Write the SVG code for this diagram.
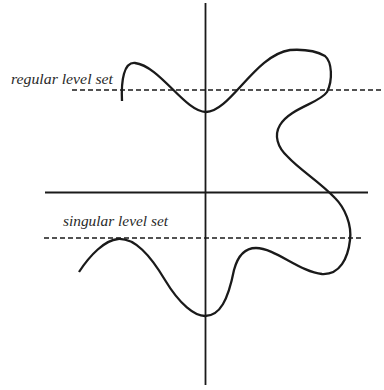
<svg xmlns="http://www.w3.org/2000/svg" width="384" height="390" viewBox="0 0 384 390">
<style>
.axis{stroke:#1a1a1a;stroke-width:1.8;fill:none}
.level{stroke:#1a1a1a;stroke-width:1.3;stroke-dasharray:5 3;fill:none}
.curve{stroke:#1a1a1a;stroke-width:2.3;fill:none;stroke-linecap:butt}
.lbl{font-family:"Liberation Serif","Times New Roman",serif;font-style:italic;font-size:14.5px;fill:#2a2a2a}
</style>
<rect width="384" height="390" fill="#fff"/>
<g id="axes">
<line class="axis" x1="205.5" y1="3" x2="205.5" y2="385"/>
<line class="axis" x1="45" y1="192.5" x2="368" y2="192.5"/>
</g>
<g id="level-sets">
<line class="level" x1="72" y1="90" x2="384" y2="90"/>
<line class="level" x1="44" y1="238" x2="364" y2="238"/>
</g>
<g id="curve">
<path class="curve" d="M122,101 C121,80 124,62 135,63 C160,66 185,112 206,112 C230,112 255,55 290,50 C305,49 318,52 325,56 C332,62 333,80 327,92 C320,103 290,108 280,125 C274,135 277,147 288,157 C300,170 320,182 335,198 C345,208 352,225 350,240 C348,258 340,275 322,274 C300,272 275,248 256,248 C245,248 238,255 234,270 C228,300 220,316 205,316 C195,316 180,305 165,280 C150,255 135,238 118,239 C105,240 90,255 79,272"/>
</g>
<g id="labels">
<text class="lbl" x="11" y="84" textLength="102" lengthAdjust="spacingAndGlyphs">regular level set</text>
<text class="lbl" x="63" y="226" textLength="105" lengthAdjust="spacingAndGlyphs">singular level set</text>
</g>
</svg>
